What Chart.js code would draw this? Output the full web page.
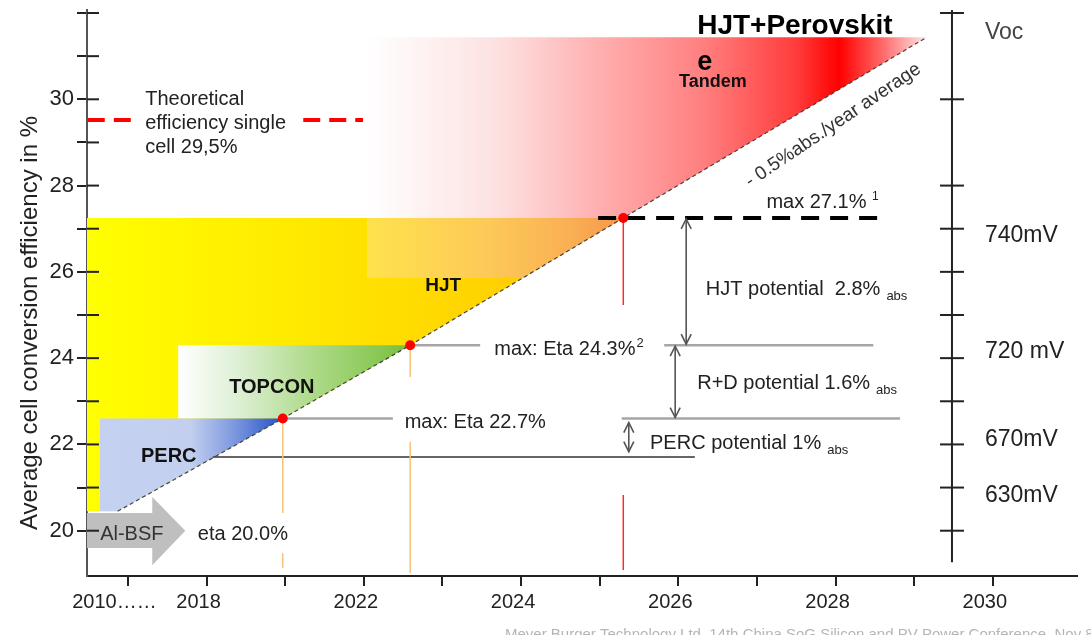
<!DOCTYPE html>
<html>
<head>
<meta charset="utf-8">
<title>Cell efficiency roadmap</title>
<script src="https://cdn.jsdelivr.net/npm/chart.js@4.4.1/dist/chart.umd.min.js"></script>
<style>
  html, body { margin: 0; padding: 0; background: #fff; }
  #wrap { width: 1091px; height: 635px; position: relative; }
</style>
</head>
<body>
<div id="wrap"><canvas id="effChart"></canvas></div>
<script>
// ---- values ----
const techNames = ['PERC', 'TOPCON', 'HJT'];
const techYear = [2020.97, 2022.59, 2025.30];      // where each cell type reaches its max
const techMaxEff = [22.6, 24.3, 27.25];            // plotted max level (%)
const techMaxText = ['max: Eta 22.7%', 'max: Eta 24.3%', 'max 27.1%'];
const trendStart = [2018.87, 20.45];               // ~0.5%abs/year average line
const trendEnd = [2029.16, 31.44];
const regionStart = [2018.645, 2019.64, 2022.04];  // PERC, TOPCON, HJT band begin
const hjtBandLow = 25.86;
const theoreticalEff = 29.52;
const percFloorEff = 21.71;
const bsfEff = 20.0;

const xTickVals = [2018.93, 2019, 2020, 2021, 2022, 2023, 2024, 2025, 2026, 2027, 2028, 2029, 2030];
const xTickLabels = ['2010……', '', '2018', '', '2022', '', '2024', '', '2026', '', '2028', '', '2030'];
const yTickVals = [20, 21, 22, 23, 24, 25, 26, 27, 28, 29, 30, 31, 32];
const yTickLabels = ['20', '', '22', '', '24', '', '26', '', '28', '', '30', '', ''];

const vocTicks = [20, 21, 22, 23, 24, 25, 26, 27, 28, 30, 32];
const vocLabels = ['Voc', '740mV', '720 mV', '670mV', '630mV'];
const vocEff = [31.55, 26.84, 24.15, 22.11, 20.81];

// ---- look ----
const FONT = '"Liberation Sans", Arial, sans-serif';
const INK = '#222';
const xMin = 2018.48, xMax = 2031.07, yMin = 18.95, yMax = 32.07;
const vocAxisX = 2029.48;

const [percX, topconX, hjtX] = techYear;
const [percY, topconY, hjtY] = techMaxEff;
const bandEndX = topconX + (hjtBandLow - topconY) / (hjtY - topconY) * (hjtX - topconX);

function hGrad(stops) {
  return function(context) {
    const { ctx, chartArea, scales } = context.chart;
    if (!chartArea) return stops[0][1];
    const x0 = scales.x.getPixelForValue(stops[0][0]);
    const x1 = scales.x.getPixelForValue(stops[stops.length - 1][0]);
    const g = ctx.createLinearGradient(x0, 0, x1, 0);
    stops.forEach(s => g.addColorStop((scales.x.getPixelForValue(s[0]) - x0) / (x1 - x0), s[1]));
    return g;
  };
}

const pts = arr => arr.map(p => ({ x: p[0], y: p[1] }));

function poly(points, bg, order) {
  return { data: pts(points), showLine: true, fill: 'shape', backgroundColor: bg,
           borderColor: 'rgba(0,0,0,0)', borderWidth: 0, pointRadius: 0, order: order };
}
function seg(points, color, width, dash, order) {
  return { data: pts(points), showLine: true, fill: false, borderColor: color, borderWidth: width,
           borderDash: dash || [], pointRadius: 0, order: order };
}

const yellowStops = [[xMin, '#FFFF00'], [2020, '#FFF300'], [2021.5, '#FFE600'], [2023, '#FFD800'], [2024.5, '#FFC900'], [hjtX, '#FFB600']];
const bandStops = [[regionStart[2], '#FFE24C'], [2023.5, '#FDCB58'], [2024.6, '#FAB055'], [hjtX, '#F7964A']];
const greenStops = [[regionStart[1], '#FFFFFF'], [2020.4, '#DDF0D4'], [2021.4, '#ABD985'], [topconX, '#77BF3C']];
const blueStops = [[regionStart[0], '#C4D1F0'], [2019.8, '#C2CFEF'], [2020.35, '#7D98DF'], [percX, '#2152C6']];
const tandemStops = [[regionStart[2], '#FFFFFF'], [2023.7, '#FDE1E1'], [2025.0, '#FFAFAF'], [2026.3, '#FF8080'],
                     [2027.5, '#FF3C3C'], [2028.05, '#FF0000'], [2028.6, '#FF6A6A'], [trendEnd[0], '#FFE8E8']];

const floorY = trendStart[1];
const datasets = [
  // marks on top
  { data: pts(techYear.map((x, i) => [x, techMaxEff[i]])), pointRadius: 5, pointBackgroundColor: '#FF0000',
    pointBorderWidth: 0, showLine: false, order: 0 },
  // drop lines
  seg([[percX, percY], [percX, 20.41]], '#F6C377', 1.5, null, 1),
  seg([[percX, 19.48], [percX, 19.14]], '#F6C377', 1.5, null, 1),
  seg([[topconX, topconY], [topconX, 23.56]], '#F6C377', 1.5, null, 1),
  seg([[topconX, 22.06], [topconX, 19.02]], '#F6C377', 1.5, null, 1),
  seg([[hjtX, hjtY], [hjtX, 25.23]], '#FF2A2A', 1.5, null, 1),
  seg([[hjtX, 20.83], [hjtX, 19.09]], '#FF2A2A', 1.5, null, 1),
  // level lines
  seg([[percX, percY], [2022.37, percY]], '#A6A6A6', 2.5, null, 1),
  seg([[2025.28, percY], [2028.82, percY]], '#A6A6A6', 2.5, null, 1),
  seg([[topconX, topconY], [2023.48, topconY]], '#A6A6A6', 2.5, null, 1),
  seg([[2025.82, topconY], [2028.48, topconY]], '#A6A6A6', 2.5, null, 1),
  seg([[2020.08, percFloorEff], [2026.21, percFloorEff]], '#333', 1.5, null, 1),
  seg([[2024.98, hjtY], [2028.59, hjtY]], '#000', 4, [18, 11], 1),
  seg([[xMin + 0.01, theoreticalEff], [2019.05, theoreticalEff]], '#FF0000', 4, [17, 9], 1),
  seg([[2021.23, theoreticalEff], [2021.99, theoreticalEff]], '#FF0000', 4, [17, 9], 1),
  // trend line
  seg([trendStart, [percX, percY], [topconX, topconY], [hjtX, hjtY], trendEnd], '#444', 1.2, [4, 3], 2),
  // filled regions
  poly([[xMin, 20.41], [2019.31, 20.41], [2019.31, 20.78], [2019.73, bsfEff], [2019.31, 19.20], [2019.31, 19.60], [xMin, 19.60]], '#BFBFBF', 3),
  poly([[regionStart[0], floorY], [regionStart[0], percY], [percX, percY], trendStart], hGrad(blueStops), 4),
  poly([[regionStart[1], percY], [regionStart[1], topconY], [topconX, topconY], [percX, percY]], hGrad(greenStops), 5),
  poly([[regionStart[2], hjtBandLow], [regionStart[2], hjtY], [hjtX, hjtY], [bandEndX, hjtBandLow]], hGrad(bandStops), 6),
  poly([[xMin, floorY], [xMin, hjtY], [hjtX, hjtY], [topconX, topconY], [percX, percY], trendStart], hGrad(yellowStops), 7),
  poly([[regionStart[2], hjtY], [hjtX, hjtY], trendEnd, [regionStart[2], trendEnd[1]]], hGrad(tandemStops), 8)
];

function say(ctx, s, x, y, size, opts) {
  opts = opts || {};
  ctx.save();
  ctx.font = (opts.bold ? 'bold ' : '') + size + 'px ' + FONT;
  ctx.fillStyle = opts.color || INK;
  ctx.textAlign = opts.align || 'left';
  ctx.textBaseline = opts.baseline || 'middle';
  ctx.translate(x, y);
  if (opts.rot) ctx.rotate(opts.rot);
  ctx.fillText(s, 0, 0);
  const w = ctx.measureText(s).width;
  ctx.restore();
  return w;
}

const decor = {
  id: 'decor',
  beforeDraw(chart) {
    const c = chart.ctx;
    c.save(); c.fillStyle = '#fff'; c.fillRect(0, 0, chart.width, chart.height); c.restore();
  },
  afterDatasetsDraw(chart) {
    const c = chart.ctx, X = chart.scales.x, Y = chart.scales.y;
    const px = v => X.getPixelForValue(v), py = v => Y.getPixelForValue(v);
    const left = chart.chartArea.left;

    c.save();
    c.strokeStyle = INK; c.lineWidth = 2;
    // inner half of left ticks
    yTickVals.forEach(v => { c.beginPath(); c.moveTo(left, py(v)); c.lineTo(left + 12, py(v)); c.stroke(); });
    // Voc axis
    const vx = px(vocAxisX);
    c.beginPath(); c.moveTo(vx, py(yMax)); c.lineTo(vx, py(19.27)); c.stroke();
    vocTicks.forEach(v => { c.beginPath(); c.moveTo(vx - 12, py(v)); c.lineTo(vx + 12, py(v)); c.stroke(); });

    // double arrows for the potentials
    c.strokeStyle = '#555'; c.lineWidth = 1.6;
    [[2026.10, hjtY, topconY], [2025.96, topconY, percY], [2025.37, 22.53, 21.81]].forEach(a => {
      const ax = px(a[0]), y1 = py(a[1]) + 1, y2 = py(a[2]) - 1;
      c.beginPath(); c.moveTo(ax, y1); c.lineTo(ax, y2); c.stroke();
      c.beginPath();
      c.moveTo(ax - 5, y1 + 10); c.lineTo(ax, y1); c.lineTo(ax + 5, y1 + 10);
      c.moveTo(ax - 5, y2 - 10); c.lineTo(ax, y2); c.lineTo(ax + 5, y2 - 10);
      c.stroke();
    });
    c.restore();

    // texts
    ['Theoretical', 'efficiency single', 'cell 29,5%'].forEach((s, i) =>
      say(c, s, px(2019.22), py(30.0) + i * 24, 20));
    say(c, techMaxText[0], px(2022.52), py(22.52), 20);
    let w = say(c, techMaxText[1], px(2023.66), py(24.21), 20);
    say(c, '2', px(2023.66) + w + 1, py(24.21) - 6, 13);
    w = say(c, techMaxText[2] + ' ', px(2027.12), py(27.6), 20);
    say(c, '1', px(2027.12) + w, py(27.6) - 6, 12);

    [['HJT potential  2.8%', 2026.35, 25.60], ['R+D potential 1.6%', 2026.24, 23.42], ['PERC potential 1%', 2025.64, 22.03]]
      .forEach(t => {
        const ww = say(c, t[0], px(t[1]), py(t[2]), 20);
        say(c, 'abs', px(t[1]) + ww + 6, py(t[2]) + 7, 13);
      });

    say(c, techNames[2], px(2023.01), py(25.67), 19, { bold: true, align: 'center', color: '#111' });
    say(c, techNames[1], px(2020.83), py(23.33), 20, { bold: true, align: 'center', color: '#111' });
    say(c, techNames[0], px(2019.52), py(21.73), 20, { bold: true, align: 'center', color: '#111' });
    say(c, 'Tandem', px(2026.44), py(30.40), 18, { bold: true, align: 'center', color: '#111' });
    say(c, 'HJT+Perovskit', px(2026.24), py(31.70), 28, { bold: true, color: '#000' });
    say(c, 'e', px(2026.24), py(30.86), 27, { bold: true, color: '#000' });
    say(c, '- 0.5%abs./year average', px(2027.97), py(29.40), 19, { align: 'center', rot: -34 * Math.PI / 180, color: '#333' });

    say(c, 'Al-BSF', px(2019.05), py(19.92), 20, { align: 'center', color: '#333' });
    say(c, 'eta 20.0%', px(2019.89), py(19.92), 20);

    vocLabels.forEach((s, i) => say(c, s, px(2029.9), py(vocEff[i]), 23, { color: i === 0 ? '#444' : INK }));

    // axis title
    say(c, 'Average cell conversion efficiency in %', 30, 323, 24, { align: 'center', rot: -Math.PI / 2 });
    // source line, cut off at the bottom like the slide
    say(c, 'Meyer Burger Technology Ltd, 14th China SoG Silicon and PV Power Conference, Nov 8, 2018',
        505, 627, 15, { baseline: 'top', color: '#B5B5B5' });
  }
};

new Chart(document.getElementById('effChart').getContext('2d'), {
  type: 'scatter',
  data: { datasets: datasets },
  options: {
    responsive: true,
    maintainAspectRatio: false,
    animation: false,
    events: [],
    layout: { padding: { top: 10, right: 14, left: 0, bottom: 0 } },
    plugins: { legend: { display: false }, tooltip: { enabled: false } },
    scales: {
      x: {
        type: 'linear', min: xMin, max: xMax,
        afterBuildTicks: s => { s.ticks = xTickVals.map(v => ({ value: v })); },
        afterFit: s => { s.height = 59; s.paddingLeft = 0; s.paddingRight = 0; },
        ticks: { autoSkip: false, maxRotation: 0, padding: 4, labelOffset: -8, color: INK,
                 font: { size: 20, family: FONT }, callback: (v, i) => xTickLabels[i] },
        grid: { drawOnChartArea: false, tickLength: 10, lineWidth: 2,
                color: c => c.index === 0 ? 'rgba(0,0,0,0)' : INK },
        border: { color: INK, width: 2 }
      },
      y: {
        type: 'linear', min: yMin, max: yMax,
        afterBuildTicks: s => { s.ticks = yTickVals.map(v => ({ value: v })); },
        afterFit: s => { s.width = 87; s.paddingTop = 0; s.paddingBottom = 0; },
        ticks: { autoSkip: false, padding: 3, color: INK, font: { size: 22, family: FONT },
                 callback: (v, i) => yTickLabels[i] },
        grid: { drawOnChartArea: false, tickLength: 10, lineWidth: 2, color: INK },
        border: { color: '#555', width: 2 }
      }
    }
  },
  plugins: [decor]
});
</script>
</body>
</html>
